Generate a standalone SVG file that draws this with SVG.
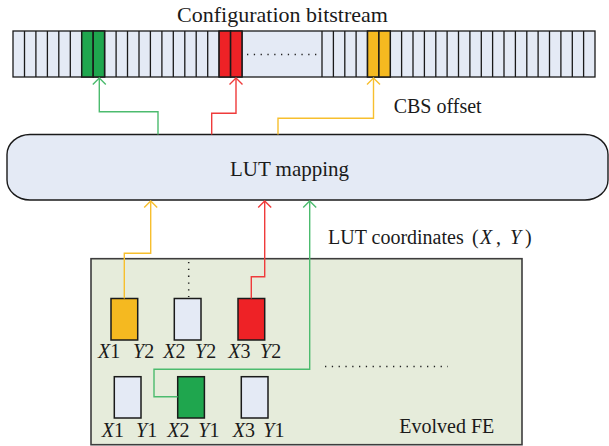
<svg xmlns="http://www.w3.org/2000/svg" width="609" height="446" viewBox="0 0 609 446">
  <style>
    text { font-family: "Liberation Serif", "Times New Roman", serif; fill: #1a1a1a; }
    .lbl { font-size: 20px; }
    .title { font-size: 22px; }
    .big { font-size: 21px; }
    .it { font-style: italic; }
    .bs { fill: #e4eaf5; stroke: #1a1a1a; stroke-width: 1.3; }
    .cellline { stroke: #1a1a1a; stroke-width: 1.3; fill: none; }
    .cell { stroke: #1a1a1a; stroke-width: 1.5; }
    .plain { fill: #e4eaf5; }
    .green { fill: #1fa64e; }
    .red { fill: #ee2226; }
    .yellow { fill: #f5b920; }
    .wire { fill: none; stroke-width: 1.4; }
    .wg { stroke: #4cbb6e; }
    .wr { stroke: #ef3b3b; }
    .wy { stroke: #f7bf2e; }
    .dots { fill: none; stroke: #222; stroke-width: 1.5; stroke-dasharray: 1.3 5.5; }
  </style>
  <defs>
    <marker id="ahG" markerUnits="userSpaceOnUse" markerWidth="16" markerHeight="16" viewBox="-8 -8 16 16" refX="0" refY="0" orient="auto">
      <path d="M -6.5,-6.5 L 0,0 L -6.5,6.5" fill="none" stroke="#4cbb6e" stroke-width="1.4"/>
    </marker>
    <marker id="ahR" markerUnits="userSpaceOnUse" markerWidth="16" markerHeight="16" viewBox="-8 -8 16 16" refX="0" refY="0" orient="auto">
      <path d="M -6.5,-6.5 L 0,0 L -6.5,6.5" fill="none" stroke="#ef3b3b" stroke-width="1.4"/>
    </marker>
    <marker id="ahY" markerUnits="userSpaceOnUse" markerWidth="16" markerHeight="16" viewBox="-8 -8 16 16" refX="0" refY="0" orient="auto">
      <path d="M -6.5,-6.5 L 0,0 L -6.5,6.5" fill="none" stroke="#f7bf2e" stroke-width="1.4"/>
    </marker>
  </defs>

  <!-- Configuration bitstream -->
  <g id="bitstream">
    <text class="title" x="282.5" y="22" text-anchor="middle">Configuration bitstream</text>
    <rect class="bs" x="13" y="31" width="582" height="46"/>
    <path class="cellline" d="M24.5 31V77M35.9 31V77M47.4 31V77M58.8 31V77M70.3 31V77M81.7 31V77M93.2 31V77M104.6 31V77M116.1 31V77M127.5 31V77M139 31V77M150.4 31V77M161.9 31V77M173.3 31V77M184.8 31V77M196.2 31V77M207.7 31V77M219.1 31V77M230.6 31V77M242 31V77M322 31V77M333.4 31V77M344.8 31V77M356.1 31V77M367.5 31V77M378.9 31V77M390.3 31V77M401.6 31V77M413 31V77M424.4 31V77M435.8 31V77M447.1 31V77M458.5 31V77M469.9 31V77M481.3 31V77M492.6 31V77M504 31V77M515.4 31V77M526.8 31V77M538.1 31V77M549.5 31V77M560.9 31V77M572.3 31V77M583.6 31V77"/>
    <rect class="cell green" x="81.7" y="31" width="11.5" height="46"/>
    <rect class="cell green" x="93.2" y="31" width="11.4" height="46"/>
    <rect class="cell red" x="219.1" y="31" width="11.5" height="46"/>
    <rect class="cell red" x="230.6" y="31" width="11.4" height="46"/>
    <rect class="cell yellow" x="367.5" y="31" width="11.4" height="46"/>
    <rect class="cell yellow" x="378.9" y="31" width="11.4" height="46"/>
    <path class="dots" d="M247 54.5H320"/>
  </g>

  <!-- LUT mapping block -->
  <g id="lut-mapping">
    <rect x="7" y="134.5" width="601" height="65.5" rx="23" ry="20" fill="#e4eaf5" stroke="#1a1a1a" stroke-width="1.4"/>
    <text class="big" x="289.5" y="176" text-anchor="middle">LUT mapping</text>
  </g>

  <!-- Evolved functional element -->
  <g id="evolved-fe">
    <rect x="91" y="258.7" width="431" height="186" fill="#e6ecdb" stroke="#3d3d3d" stroke-width="1.6"/>
    <text class="lbl" x="399.3" y="433">Evolved FE</text>
    <path class="dots" d="M188.7 262V297"/>
    <path class="dots" d="M325 366.5H448"/>
  </g>

  <g id="lut-x1y2">
    <rect class="cell yellow" x="111" y="298.5" width="26.7" height="41.5"/>
    <text class="lbl" x="98" y="357.5"><tspan class="it">X</tspan>1</text>
    <text class="lbl" x="133" y="357.5"><tspan class="it">Y</tspan>2</text>
  </g>
  <g id="lut-x2y2">
    <rect class="cell plain" x="174.3" y="298.5" width="26.7" height="41.5"/>
    <text class="lbl" x="163.3" y="357.5"><tspan class="it">X</tspan>2</text>
    <text class="lbl" x="195" y="357.5"><tspan class="it">Y</tspan>2</text>
  </g>
  <g id="lut-x3y2">
    <rect class="cell red" x="238" y="298.5" width="26.7" height="41.5"/>
    <text class="lbl" x="228.3" y="357.5"><tspan class="it">X</tspan>3</text>
    <text class="lbl" x="260" y="357.5"><tspan class="it">Y</tspan>2</text>
  </g>
  <g id="lut-x1y1">
    <rect class="cell plain" x="114.3" y="376.7" width="26.7" height="41.3"/>
    <text class="lbl" x="101.7" y="436.5"><tspan class="it">X</tspan>1</text>
    <text class="lbl" x="136" y="436.5"><tspan class="it">Y</tspan>1</text>
  </g>
  <g id="lut-x2y1">
    <rect class="cell green" x="177.7" y="376.7" width="26.7" height="41.3"/>
    <text class="lbl" x="167.3" y="436.5"><tspan class="it">X</tspan>2</text>
    <text class="lbl" x="198.3" y="436.5"><tspan class="it">Y</tspan>1</text>
  </g>
  <g id="lut-x3y1">
    <rect class="cell plain" x="241.3" y="376.7" width="26.7" height="41.3"/>
    <text class="lbl" x="232.7" y="436.5"><tspan class="it">X</tspan>3</text>
    <text class="lbl" x="263.3" y="436.5"><tspan class="it">Y</tspan>1</text>
  </g>

  <!-- Connector labels -->
  <g id="labels">
    <text class="lbl" x="393.7" y="113.3">CBS offset</text>
    <text class="lbl" x="328" y="244">LUT coordinates</text>
    <text class="lbl" x="472" y="244">(</text>
    <text class="lbl it" x="480" y="244">X</text>
    <text class="lbl" x="496" y="244">,</text>
    <text class="lbl" x="510" y="244"><tspan class="it">Y</tspan></text>
    <text class="lbl" x="525" y="244">)</text>
  </g>

  <!-- Connectors -->
  <g id="connectors">
    <polyline class="wire wg" points="158,134.5 158,111.7 99.3,111.7 99.3,78" marker-end="url(#ahG)"/>
    <polyline class="wire wr" points="211.7,134.5 211.7,113.3 236,113.3 236,78" marker-end="url(#ahR)"/>
    <polyline class="wire wy" points="278,134.5 278,118.3 373.5,118.3 373.5,78" marker-end="url(#ahY)"/>
    <polyline class="wire wy" points="124.3,298.5 124.3,253.3 150.7,253.3 150.7,201" marker-end="url(#ahY)"/>
    <polyline class="wire wr" points="251.3,298.5 251.3,276.7 264.7,276.7 264.7,201" marker-end="url(#ahR)"/>
    <polyline class="wire wg" points="177.7,396.7 154,396.7 154,369.3 309.7,369.3 309.7,201" marker-end="url(#ahG)"/>
  </g>
</svg>
